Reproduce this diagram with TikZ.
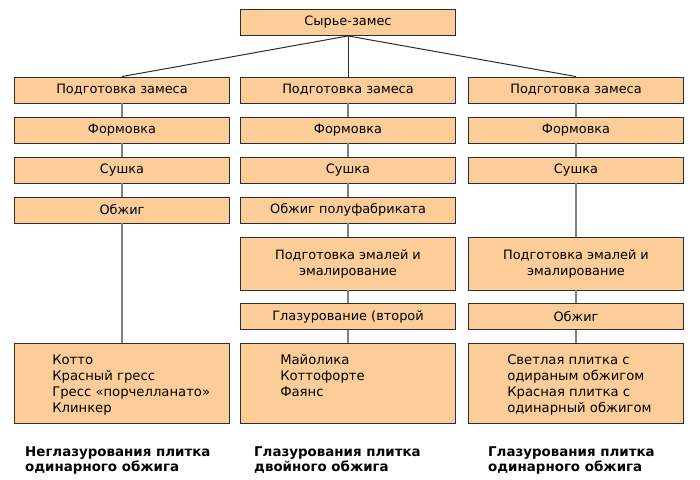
\documentclass[tikz,border=0pt]{standalone}
\usepackage{fontspec}
\setmainfont{DejaVu Sans}
\usetikzlibrary{positioning}
\definecolor{stagefill}{RGB}{252,204,153}
\definecolor{stageline}{RGB}{45,45,45}
\tikzset{
    stage/.style={draw=stageline, fill=stagefill, line width=0.9pt, minimum width=215pt,
        minimum height=26pt, inner sep=0pt, align=center, font=\fontsize{12.9}{16}\selectfont},
    tallstage/.style={stage, minimum height=53pt},
    product/.style={stage, minimum height=80pt},
    itemlist/.style={anchor=north west, inner sep=0pt, align=left, font=\fontsize{13.2}{16}\selectfont},
    caption/.style={anchor=north west, inner sep=0pt, align=left, font=\fontsize{13.4}{15}\selectfont\bfseries},
    link/.style={draw=gray, line width=1.6pt},
    branch/.style={draw=stageline, line width=1pt}
}
\begin{document}
\begin{tikzpicture}[x=1pt, y=-1pt]
    \useasboundingbox (0, 0) rectangle (700, 479);

    \node[stage] (raw) at (348, 22.5) {Сырье-замес};

    \node[stage] (l1) at (122, 90) {Подготовка замеса};
    \node[stage] (l2) at (122, 130) {Формовка};
    \node[stage] (l3) at (122, 170) {Сушка};
    \node[stage] (l4) at (122, 210) {Обжиг};
    \node[product] (lout) at (122, 383) {};

    \node[stage] (m1) at (348, 90) {Подготовка замеса};
    \node[stage] (m2) at (348, 130) {Формовка};
    \node[stage] (m3) at (348, 170) {Сушка};
    \node[stage] (m4) at (348, 210) {Обжиг полуфабриката};
    \node[tallstage] (m5) at (348, 263.5) {Подготовка эмалей и\\эмалирование};
    \node[stage] (m6) at (348, 316.5) {Глазурование (второй};
    \node[product] (mout) at (348, 383) {};

    \node[stage] (r1) at (576, 90) {Подготовка замеса};
    \node[stage] (r2) at (576, 130) {Формовка};
    \node[stage] (r3) at (576, 170) {Сушка};
    \node[tallstage] (r5) at (576, 263.5) {Подготовка эмалей и\\эмалирование};
    \node[stage] (r6) at (576, 316.5) {Обжиг};
    \node[product] (rout) at (576, 383) {};

    \draw[branch] (raw.south) -- (l1.north);
    \draw[branch] (raw.south) -- (m1.north);
    \draw[branch] (raw.south) -- (r1.north);

    \draw[link] (l1) -- (l2) -- (l3) -- (l4) -- (lout);
    \draw[link] (m1) -- (m2) -- (m3) -- (m4) -- (m5) -- (m6) -- (mout);
    \draw[link] (r1) -- (r2) -- (r3) -- (r5) -- (r6) -- (rout);

    \node[itemlist] (ltxt) at ([shift={(38, 12)}]lout.north west)
        {Котто\\Красный гресс\\Гресс «порчелланато»\\Клинкер};
    \node[itemlist] (mtxt) at ([shift={(40, 12)}]mout.north west)
        {Майолика\\Коттофорте\\Фаянс};
    \node[itemlist] (rtxt) at ([shift={(39, 12)}]rout.north west)
        {Светлая плитка с\\одираным обжигом\\Красная плитка с\\одинарный обжигом};

    \node[caption] (lcap) at (25, 447) {Неглазурования плитка\\одинарного обжига};
    \node[caption] (mcap) at (254, 447) {Глазурования плитка\\двойного обжига};
    \node[caption] (rcap) at (488, 447) {Глазурования плитка\\одинарного обжига};
\end{tikzpicture}
\end{document}
